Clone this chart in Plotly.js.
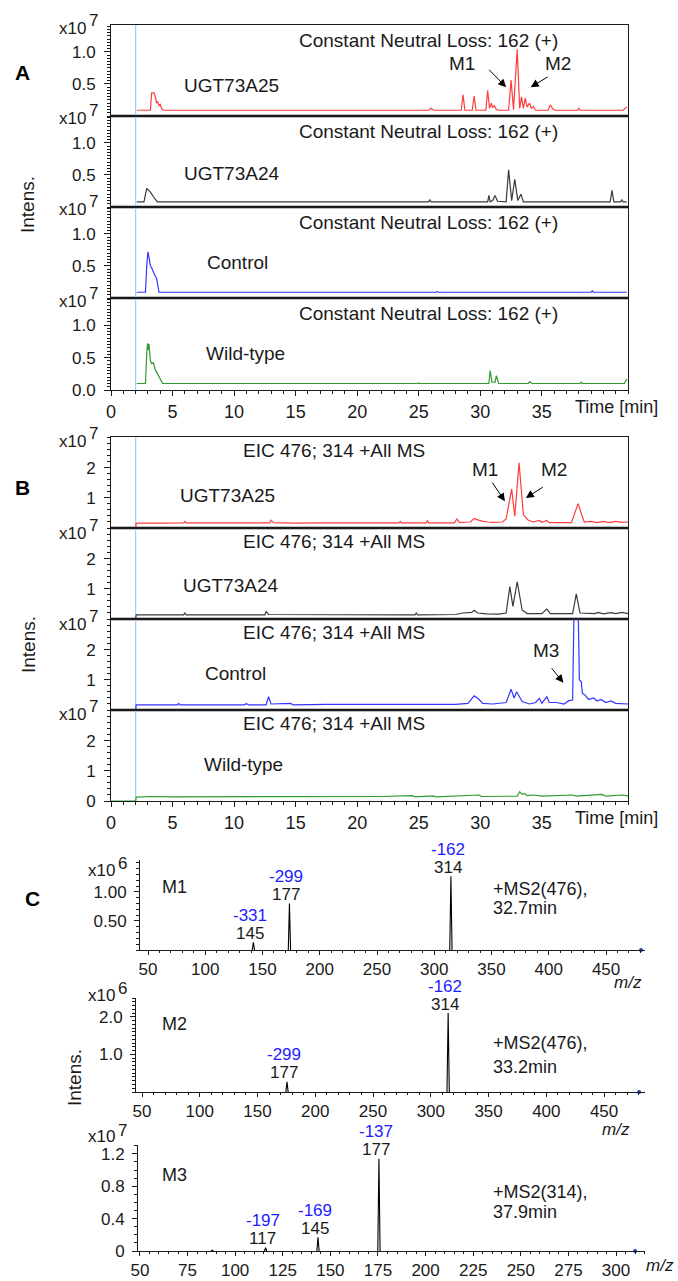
<!DOCTYPE html>
<html><head><meta charset="utf-8">
<script src="https://cdn.plot.ly/plotly-3.0.1.min.js"></script>
<style>html,body{margin:0;padding:0;background:#fff;}#chart{width:678px;height:1281px;}</style>
</head><body><div id="chart"></div>
<script>
// ===== Panel A: Constant Neutral Loss 162 (+) — time [min], intensity x10^7 =====
const timeA_UGT73A25 = [2.1,3.2,3.3,3.5,3.6,3.7,3.8,3.9,4.0,4.1,4.25,25.8,26.0,26.2,28.45,28.6,28.75,29.35,29.5,29.65,30.45,30.6,30.75,30.9,31.0,31.15,31.3,31.5,32.3,32.5,32.7,33.0,33.2,33.35,33.5,33.65,33.8,34.0,34.15,34.3,34.5,35.5,35.7,35.9,36.1,37.9,38.0,38.1,41.6,41.9];
const intA_UGT73A25  = [0.09,0.09,0.36,0.36,0.3,0.2,0.22,0.16,0.18,0.12,0.09,0.09,0.12,0.09,0.09,0.33,0.09,0.09,0.31,0.09,0.09,0.40,0.12,0.2,0.13,0.16,0.1,0.09,0.09,0.56,0.1,1.04,0.12,0.3,0.12,0.28,0.14,0.2,0.12,0.15,0.09,0.09,0.17,0.11,0.09,0.09,0.12,0.09,0.09,0.14];
const timeA_UGT73A24 = [2.1,2.68,2.9,3.17,3.45,3.76,25.8,25.9,26.0,30.6,30.7,30.8,31.0,31.2,31.4,32.1,32.3,32.55,32.8,33.05,33.3,33.5,40.55,40.7,40.85,41.4,41.5,41.6,41.9];
const intA_UGT73A24  = [0.08,0.08,0.29,0.24,0.16,0.08,0.08,0.11,0.08,0.08,0.18,0.08,0.1,0.18,0.09,0.08,0.58,0.1,0.43,0.1,0.2,0.08,0.08,0.26,0.08,0.08,0.11,0.08,0.08];
const timeA_Control  = [2.09,2.8,2.9,3.0,3.1,3.2,3.3,3.4,3.55,3.7,3.8,3.9,26.4,26.5,26.6,39.0,39.1,39.2,41.9];
const intA_Control   = [0.09,0.09,0.5,0.72,0.62,0.5,0.47,0.42,0.36,0.31,0.2,0.09,0.09,0.1,0.09,0.09,0.11,0.09,0.09];
const timeA_WildType = [2.1,2.8,2.9,2.97,3.03,3.08,3.2,3.3,3.45,3.6,3.75,3.9,4.05,4.2,24.9,25.0,25.1,30.7,30.8,30.95,31.2,31.3,31.5,33.9,34.0,34.2,38.1,38.2,38.3,41.7,41.9];
const intA_WildType  = [0.1,0.1,0.55,0.72,0.62,0.71,0.45,0.41,0.42,0.31,0.26,0.2,0.15,0.1,0.1,0.11,0.1,0.1,0.30,0.12,0.12,0.22,0.1,0.1,0.13,0.1,0.1,0.12,0.1,0.1,0.17];

// ===== Panel B: EIC 476; 314 +All MS — time [min], intensity x10^7 =====
const timeB_UGT73A25 = [0,2.0,2.05,3,4,5.9,6.0,6.1,8,10,12.9,13.0,13.2,15,17,20,23.4,23.5,23.6,25.6,25.7,25.8,27.9,28.1,28.3,29.2,29.5,29.8,30.2,30.6,31,31.8,32.1,32.55,32.8,33.15,33.5,33.9,34.3,34.8,35.0,35.4,35.6,37.4,37.8,37.95,38.15,38.45,39,39.5,40,40.5,41,41.5,42];
const intB_UGT73A25  = [0,0,0.16,0.17,0.16,0.17,0.22,0.17,0.16,0.17,0.17,0.26,0.18,0.16,0.17,0.16,0.17,0.22,0.17,0.17,0.25,0.17,0.17,0.3,0.19,0.2,0.32,0.27,0.22,0.2,0.19,0.2,0.3,1.3,0.39,2.17,0.44,0.26,0.2,0.25,0.19,0.25,0.18,0.18,0.6,0.81,0.55,0.2,0.22,0.18,0.22,0.18,0.22,0.19,0.2];
const timeB_UGT73A24 = [0,2.0,2.05,5.9,6.0,6.1,12.5,12.6,12.8,18,24.7,24.8,24.9,28,28.6,29.3,29.5,29.8,30.5,31.5,32.1,32.4,32.65,33.0,33.4,33.8,35.0,35.4,35.7,37.5,37.8,38.1,38.5,39.3,39.6,40,40.6,41,41.5,42];
const intB_UGT73A24  = [0,0,0.14,0.14,0.2,0.14,0.14,0.25,0.15,0.14,0.14,0.2,0.14,0.15,0.2,0.22,0.29,0.2,0.17,0.16,0.2,1.08,0.42,1.24,0.3,0.18,0.18,0.33,0.18,0.18,0.84,0.2,0.2,0.18,0.22,0.17,0.21,0.18,0.22,0.18];
const timeB_Control  = [0,2.0,2.05,5.4,5.5,5.6,10.8,11.0,11.2,12.6,12.8,13.0,14.6,14.8,17.5,22.5,24.5,26,28,29,29.5,29.8,30.2,31,31.5,32.1,32.5,32.75,32.95,33.4,34,34.5,34.8,35.0,35.4,35.6,36.2,36.8,37.2,37.5,37.62,37.95,38.05,38.2,38.3,38.5,38.8,39.2,39.5,39.8,40.2,40.6,41,41.5,42];
const intB_Control   = [0,0,0.17,0.17,0.22,0.17,0.17,0.21,0.17,0.17,0.44,0.2,0.22,0.17,0.19,0.2,0.19,0.2,0.19,0.22,0.47,0.39,0.22,0.2,0.22,0.25,0.69,0.4,0.61,0.28,0.2,0.25,0.39,0.22,0.44,0.25,0.25,0.2,0.31,0.33,3.4,3.4,1.0,0.95,0.55,0.5,0.35,0.4,0.3,0.35,0.25,0.3,0.22,0.22,0.2];
const timeB_WildType = [0,2.0,2.05,3.3,5,10,16.5,22,24.5,24.7,26.2,26.4,29.9,30.1,33.0,33.2,33.4,33.6,33.8,34.3,35,37.5,37.8,38.5,39.9,40.2,41.2,41.6,42];
const intB_WildType  = [0,0,0.13,0.15,0.14,0.15,0.15,0.15,0.18,0.14,0.17,0.14,0.2,0.15,0.16,0.31,0.22,0.25,0.18,0.2,0.16,0.2,0.16,0.18,0.22,0.16,0.18,0.2,0.17];
const timeTicks = [0, 5, 10, 15, 20, 25, 30, 35];

// ===== Panel C: MS2 spectra =====
const mzC_M1 = [142, 173.5, 314.5];      const intC_M1 = [0.13, 0.80, 1.27];   // x10^6
const labC_M1 = ['145','177','314'];     const lossC_M1 = ['-331','-299','-162'];
const mzC_M2 = [175.5, 315];             const intC_M2 = [0.27, 2.1];          // x10^6
const labC_M2 = ['177','314'];           const lossC_M2 = ['-299','-162'];
const mzC_M3 = [88, 116, 143.5, 175.5];  const intC_M3 = [0.01, 0.04, 0.17, 1.14]; // x10^7
const labC_M3 = [null,'117','145','177']; const lossC_M3 = [null,'-197','-169','-137'];
const precursorC = [480.5, 480.3, 310];

const sampleNames = ['UGT73A25','UGT73A24','Control','Wild-type'];
const sampleColors = ['#ff3d3d','#3a3a3a','#3434ff','#2f9a2f'];

// ---------- helpers ----------
const FONT = 'Liberation Sans, Arial, sans-serif';
const W = 678, H = 1281;
const px = x => x / W;
const py = y => 1 - y / H;
const ref = (l, n) => l + (n === 1 ? '' : n);
const axKey = (l, n) => l + 'axis' + (n === 1 ? '' : n);
const INK = '#1a1a1a';

const layout = {
  width: W, height: H, margin: {l:0, r:0, t:0, b:0},
  paper_bgcolor: '#fff', plot_bgcolor: 'rgba(0,0,0,0)',
  showlegend: false, font: {family: FONT, size: 17, color: INK},
  annotations: [], shapes: []
};
const traces = [];

function baseAx() {
  return {showline: true, linecolor: INK, linewidth: 1, showgrid: false, zeroline: false,
          tickcolor: INK, tickwidth: 1, tickfont: {family: FONT, size: 17, color: INK}, fixedrange: true};
}
function txt(text, x, y, o) {
  return Object.assign({text, x: px(x), y: py(y), xref: 'paper', yref: 'paper', showarrow: false,
    xanchor: 'center', yanchor: 'middle', font: {family: FONT, size: 18, color: INK}}, o || {});
}
function dtxt(text, n, x, y, o) {
  return Object.assign({text, x, y, xref: ref('x', n), yref: ref('y', n), showarrow: false,
    xanchor: 'center', yanchor: 'middle', font: {family: FONT, size: 18, color: INK}}, o || {});
}
function arrow(n, x, y, ax, ay) {
  return {text: '', x, y, ax, ay, xref: ref('x', n), yref: ref('y', n), axref: ref('x', n), ayref: ref('y', n),
    showarrow: true, arrowhead: 2, arrowsize: 1.6, arrowwidth: 1, arrowcolor: '#000', standoff: 0, startstandoff: 0};
}
function expLabel(xRight, yBase, yExp, e) {
  layout.annotations.push(txt('x10', xRight, yBase, {xanchor: 'right', font: {family: FONT, size: 17, color: INK}}));
  layout.annotations.push(txt(e, xRight - 1, yExp, {xanchor: 'left', font: {family: FONT, size: 17, color: INK}}));
}

// ---------- chromatogram panels ----------
function chromPanel(first, tops, bottom, times, ints, yMax, tickVals, tickFmt, minorDt, titleText, titleY, exp, labelPos, xlabY) {
  const edges = tops.concat([bottom]);
  for (let i = 0; i < 4; i++) {
    const n = first + i, last = i === 3;
    const xa = Object.assign(baseAx(), {domain: [px(111), px(628)], range: [0, 42], anchor: ref('y', n), mirror: true,
      tickmode: 'array', tickvals: timeTicks, ticktext: timeTicks.map(String), ticks: last ? 'outside' : '', ticklen: 5, showticklabels: last,
      tickfont: {family: FONT, size: 18, color: INK}});
    if (last) xa.minor = {tickmode: 'linear', tick0: 0, dtick: 1, ticks: 'outside', ticklen: 3, tickcolor: INK};
    const tv = last ? [0].concat(tickVals) : tickVals.slice();
    const ya = Object.assign(baseAx(), {domain: [py(edges[i+1]), py(edges[i])], range: [0, yMax], anchor: ref('x', n), mirror: true,
      tickmode: 'array', tickvals: tv, ticktext: tv.map(v => v.toFixed(tickFmt)), ticks: 'outside', ticklen: 6, ticklabelstandoff: 5,
      minor: {tickmode: 'linear', tick0: 0, dtick: minorDt, ticks: 'outside', ticklen: 3, tickcolor: INK}});
    layout[axKey('x', n)] = xa;
    layout[axKey('y', n)] = ya;
    traces.push({type: 'scatter', mode: 'lines', x: times[i], y: ints[i], xaxis: ref('x', n), yaxis: ref('y', n),
      line: {color: sampleColors[i], width: 1.2}, hoverinfo: 'skip'});
    layout.annotations.push(dtxt(titleText, n, titleY[0], titleY[1], {font: {family: FONT, size: 19, color: INK}}));
    layout.annotations.push(dtxt(sampleNames[i], n, labelPos[i][0], labelPos[i][1], {font: {family: FONT, size: 19, color: INK}}));
    expLabel(88, edges[i] + exp[0], edges[i] + exp[1], '7');
    if (i > 0) layout.shapes.push({type: 'line', layer: 'below', xref: 'paper', yref: 'paper', x0: px(111), x1: px(628),
      y0: py(edges[i]), y1: py(edges[i]), line: {color: '#000', width: 2.6}});
  }
  layout.shapes.push({type: 'line', layer: 'below', xref: ref('x', first), yref: 'paper', x0: 2, x1: 2,
    y0: py(bottom), y1: py(tops[0]), line: {color: '#a6cff3', width: 1.3}});
  layout.annotations.push(txt('Time [min]', 573, xlabY, {xanchor: 'left'}));
}

chromPanel(1, [25, 116, 207, 298], 390,
  [timeA_UGT73A25, timeA_UGT73A24, timeA_Control, timeA_WildType],
  [intA_UGT73A25, intA_UGT73A24, intA_Control, intA_WildType],
  1.42, [0.5, 1.0], 1, 0.05, 'Constant Neutral Loss: 162 (+)', [25.8, 1.18], [3, -5],
  [[9.8, 0.48], [9.8, 0.53], [10.3, 0.55], [10.9, 0.56]], 407);

chromPanel(5, [437, 528, 619, 710], 801,
  [timeB_UGT73A25, timeB_UGT73A24, timeB_Control, timeB_WildType],
  [intB_UGT73A25, intB_UGT73A24, intB_Control, intB_WildType],
  3.03, [1, 2], 0, 0.2, 'EIC 476; 314 +All MS', [18.1, 2.58], [5, -3],
  [[9.5, 1.07], [9.7, 1.13], [10.1, 1.22], [10.8, 1.2]], 818);

// arrows + M labels
layout.annotations.push(dtxt('M1', 1, 28.5, 0.82, {font: {family: FONT, size: 19, color: INK}}));
layout.annotations.push(dtxt('M2', 1, 36.3, 0.82, {font: {family: FONT, size: 19, color: INK}}));
layout.annotations.push(arrow(1, 32.1, 0.45, 30.6, 0.745));
layout.annotations.push(arrow(1, 34.1, 0.45, 35.6, 0.625));
layout.annotations.push(dtxt('M1', 5, 30.4, 1.94, {font: {family: FONT, size: 19, color: INK}}));
layout.annotations.push(dtxt('M2', 5, 36.0, 1.94, {font: {family: FONT, size: 19, color: INK}}));
layout.annotations.push(arrow(5, 32.0, 0.89, 30.9, 1.56));
layout.annotations.push(arrow(5, 33.7, 1.0, 35.2, 1.39));
layout.annotations.push(dtxt('M3', 7, 35.3, 1.98, {font: {family: FONT, size: 19, color: INK}}));
layout.annotations.push(arrow(7, 36.75, 0.91, 35.7, 1.44));

// ---------- spectra ----------
function sticks(mz, inten, hw) {
  const x = [], y = [];
  mz.forEach((m, i) => { x.push(m - hw, m, m + hw, null); y.push(0, inten[i], 0, null); });
  return {x, y};
}
const specDefs = [
  {n: 9,  xd: [140, 645], xr: [43, 484],     yd: [860, 950],  yr: [0, 1.55], tv: [0.5, 1.0], fmt: 2, dt: 50, t0: 50, mdt: 10, ymdt: 0.1,
   mz: mzC_M1, it: intC_M1, lab: labC_M1, loss: lossC_M1, hw: 1.0, exp: '6', expY: [870, 863], name: 'M1', nameY: 887, info: ['+MS2(476),', '32.7min'], infoY: [889, 908], mzLab: [628, 982]},
  {n: 10, xd: [136, 645], xr: [44.8, 485.4], yd: [998, 1092], yr: [0, 2.5],  tv: [1.0, 2.0], fmt: 1, dt: 50, t0: 50, mdt: 10, ymdt: 0.1,
   mz: mzC_M2, it: intC_M2, lab: labC_M2, loss: lossC_M2, hw: 1.0, exp: '6', expY: [995, 988], name: 'M2', nameY: 1024, info: ['+MS2(476),', '33.2min'], infoY: [1043, 1067], mzLab: [616, 1129]},
  {n: 11, xd: [138, 645], xr: [49, 315.2],   yd: [1145, 1251], yr: [0, 1.31], tv: [0, 0.4, 0.8, 1.2], fmt: 1, dt: 25, t0: 50, mdt: 5, ymdt: 0.1,
   mz: mzC_M3, it: intC_M3, lab: labC_M3, loss: lossC_M3, hw: 0.6, exp: '7', expY: [1136, 1130], name: 'M3', nameY: 1175, info: ['+MS2(314),', '37.9min'], infoY: [1192, 1212], mzLab: [660, 1265]}
];
specDefs.forEach((d, k) => {
  const n = d.n;
  layout[axKey('x', n)] = Object.assign(baseAx(), {domain: [px(d.xd[0]), px(d.xd[1])], range: d.xr, anchor: ref('y', n),
    tickmode: 'linear', tick0: d.t0, dtick: d.dt, ticks: 'outside', ticklen: 4, tickfont: {family: FONT, size: 17, color: INK},
    minor: {tickmode: 'linear', tick0: d.t0, dtick: d.mdt, ticks: 'outside', ticklen: 2, tickcolor: INK}});
  layout[axKey('y', n)] = Object.assign(baseAx(), {domain: [py(d.yd[1]), py(d.yd[0])], range: d.yr, anchor: ref('x', n),
    tickmode: 'array', tickvals: d.tv, ticktext: d.tv.map(v => v === 0 ? '0' : v.toFixed(d.fmt)), ticks: 'outside', ticklen: 5, ticklabelstandoff: 4,
    minor: {tickmode: 'linear', tick0: 0, dtick: d.ymdt, ticks: 'outside', ticklen: 3, tickcolor: INK}});
  const s = sticks(d.mz, d.it, d.hw);
  traces.push({type: 'scatter', mode: 'lines', x: s.x, y: s.y, xaxis: ref('x', n), yaxis: ref('y', n),
    line: {color: '#000', width: 1.1}, connectgaps: false, hoverinfo: 'skip'});
  traces.push({type: 'scatter', mode: 'markers', x: [precursorC[k]], y: [0], xaxis: ref('x', n), yaxis: ref('y', n),
    marker: {color: '#1f3fbf', size: 4}, cliponaxis: false, hoverinfo: 'skip'});
  d.mz.forEach((m, i) => {
    if (!d.lab[i]) return;
    layout.annotations.push(dtxt(d.lab[i], n, m, d.it[i], {yshift: 9, xshift: -3, font: {family: FONT, size: 17, color: INK}}));
    layout.annotations.push(dtxt(d.loss[i], n, m, d.it[i], {yshift: 27, xshift: -3, font: {family: FONT, size: 17, color: '#1c1cff'}}));
  });
  expLabel(117, d.expY[0], d.expY[1], d.exp);
  layout.annotations.push(txt(d.name, 174, d.nameY));
  layout.annotations.push(txt(d.info[0], 491, d.infoY[0], {xanchor: 'left'}));
  layout.annotations.push(txt(d.info[1], 491, d.infoY[1], {xanchor: 'left'}));
  layout.annotations.push(txt('<i>m/z</i>', d.mzLab[0], d.mzLab[1], {font: {family: FONT, size: 17, color: INK}}));
});

// ---------- panel letters and y titles ----------
layout.annotations.push(txt('<b>A</b>', 22, 73, {font: {family: FONT, size: 21, color: '#000'}}));
layout.annotations.push(txt('<b>B</b>', 22, 487, {font: {family: FONT, size: 21, color: '#000'}}));
layout.annotations.push(txt('<b>C</b>', 32, 898, {font: {family: FONT, size: 21, color: '#000'}}));
layout.annotations.push(txt('Intens.', 28, 205, {textangle: -90, font: {family: FONT, size: 19, color: INK}}));
layout.annotations.push(txt('Intens.', 28, 645, {textangle: -90, font: {family: FONT, size: 19, color: INK}}));
layout.annotations.push(txt('Intens.', 74, 1078, {textangle: -90, font: {family: FONT, size: 19, color: INK}}));

Plotly.newPlot('chart', traces, layout, {staticPlot: true, displayModeBar: false});
</script>
</body></html>
